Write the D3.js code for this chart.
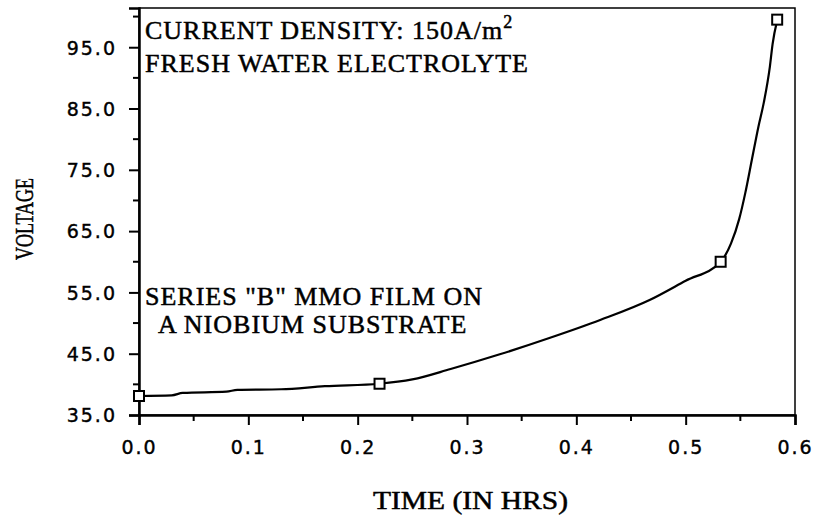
<!DOCTYPE html>
<html>
<head>
<meta charset="utf-8">
<script src="https://cdn.jsdelivr.net/npm/d3@7"></script>
<style>
  body { margin: 0; background: #fff; }
  .tick-label { font-family: "DejaVu Sans", sans-serif; font-size: 19px; letter-spacing: 2px; fill: #000; stroke: #000; stroke-width: 0.4px; }
  .note { font-family: "Liberation Serif", serif; font-size: 26px; letter-spacing: 1px; fill: #000; stroke: #000; stroke-width: 0.5px; }
  .title { font-family: "Liberation Serif", serif; font-size: 26px; fill: #000; stroke: #000; stroke-width: 0.5px; }
</style>
</head>
<body>
<div id="chart"></div>
<script>
// curve (time in hrs, voltage)
const curveTime = [0, 0.03, 0.04, 0.08, 0.09, 0.13, 0.17, 0.22, 0.25, 0.285, 0.33, 0.376, 0.4218, 0.4675, 0.5, 0.532, 0.5415, 0.549, 0.5545, 0.5605, 0.5665, 0.5715, 0.577, 0.5795, 0.5837];
const curveVolt = [38.1, 38.2, 38.6, 38.8, 39.1, 39.2, 39.7, 40.1, 40.8, 42.5, 44.9, 47.6, 50.5, 53.8, 56.9, 60.0, 63.0, 67.0, 71.2, 76.6, 82.0, 86.0, 91.8, 95.5, 99.4];

// measured points (square markers)
const pointTime = [0, 0.22, 0.532, 0.5837];
const pointVolt = [38.1, 40.1, 60.0, 99.5];

const xTicks = [0, 0.1, 0.2, 0.3, 0.4, 0.5, 0.6];
const xMinor = [0.05, 0.15, 0.25, 0.35, 0.45, 0.55];
const yTicks = [35, 45, 55, 65, 75, 85, 95];
const yMinor = [40, 50, 60, 70, 80, 90, 100];

const width = 814, height = 516;
const margin = {top: 8, right: 19, bottom: 101, left: 139};

const svg = d3.select('#chart')
              .append('svg')
              .attr('width', width)
              .attr('height', height);

const x = d3.scaleLinear().domain([0, 0.6]).range([margin.left, width - margin.right]);
const y = d3.scaleLinear().domain([35, 101.4]).range([height - margin.bottom, margin.top]);

// frame
svg.append('rect')
   .attr('x', x(0)).attr('y', y(101.4))
   .attr('width', x(0.6) - x(0)).attr('height', y(35) - y(101.4))
   .attr('fill', 'none').attr('stroke', '#000').attr('stroke-width', 1.5);

// y axis
const yAxis = svg.append('g')
                 .attr('transform', `translate(${x(0)},0)`)
                 .call(d3.axisLeft(y).tickValues(yTicks).tickSize(10).tickFormat(d3.format('.1f')));
yAxis.select('.domain').attr('stroke-width', 2.5);
yAxis.selectAll('.tick line').attr('stroke-width', 2);
yAxis.selectAll('.tick text').attr('class', 'tick-label').attr('x', -22).attr('dy', '0.36em');

svg.append('g')
   .selectAll('line')
   .data(yMinor.filter(d => d < 101.4))
   .enter().append('line')
   .attr('x1', x(0) - 6).attr('x2', x(0))
   .attr('y1', d => y(d)).attr('y2', d => y(d))
   .attr('stroke', '#000').attr('stroke-width', 2);

// x axis
const xAxis = svg.append('g')
                 .attr('transform', `translate(0,${y(35)})`)
                 .call(d3.axisBottom(x).tickValues(xTicks).tickSize(10).tickFormat(d3.format('.1f')));
xAxis.select('.domain').attr('stroke-width', 2.5);
xAxis.selectAll('.tick line').attr('stroke-width', 2);
xAxis.selectAll('.tick text').attr('class', 'tick-label').attr('y', 26).attr('dy', '0.71em');

svg.append('g')
   .selectAll('line')
   .data(xMinor)
   .enter().append('line')
   .attr('x1', d => x(d)).attr('x2', d => x(d))
   .attr('y1', y(35)).attr('y2', y(35) + 6)
   .attr('stroke', '#000').attr('stroke-width', 2);

// axis titles
svg.append('text')
   .attr('class', 'title')
   .attr('transform', `translate(33,219) rotate(-90)`)
   .attr('text-anchor', 'middle')
   .attr('textLength', 82)
   .attr('lengthAdjust', 'spacingAndGlyphs')
   .text('VOLTAGE');

svg.append('text')
   .attr('class', 'title')
   .attr('x', 373).attr('y', 509)
   .attr('textLength', 195)
   .attr('lengthAdjust', 'spacingAndGlyphs')
   .text('TIME (IN HRS)');

// curve
const line = d3.line()
               .x((d, i) => x(curveTime[i]))
               .y(d => y(d))
               .curve(d3.curveMonotoneX);

svg.append('path')
   .datum(curveVolt)
   .attr('d', line)
   .attr('fill', 'none')
   .attr('stroke', '#000')
   .attr('stroke-width', 2.2);

// markers
svg.append('g')
   .selectAll('rect')
   .data(pointVolt)
   .enter().append('rect')
   .attr('x', (d, i) => x(pointTime[i]) - 5)
   .attr('y', d => y(d) - 5)
   .attr('width', 10).attr('height', 10)
   .attr('fill', '#fff')
   .attr('stroke', '#000')
   .attr('stroke-width', 2);

// annotations
const t1 = svg.append('text').attr('class', 'note').attr('x', 145).attr('y', 39);
t1.append('tspan').text('CURRENT DENSITY: 150A/m');
t1.append('tspan').attr('dy', -11).attr('font-size', 18).text('2');

svg.append('text').attr('class', 'note').attr('x', 145).attr('y', 72).text('FRESH WATER ELECTROLYTE');
svg.append('text').attr('class', 'note').attr('x', 145).attr('y', 305).text('SERIES "B" MMO FILM ON');
svg.append('text').attr('class', 'note').attr('x', 158).attr('y', 333).text('A NIOBIUM SUBSTRATE');
</script>
</body>
</html>
